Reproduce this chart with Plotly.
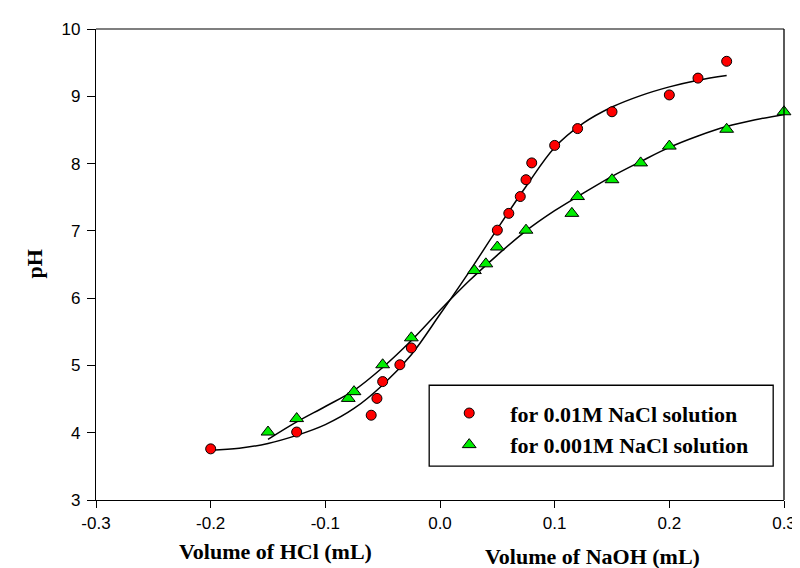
import plotly.graph_objects as go

# ---- data ----
red_x = [-0.2, -0.125, -0.06, -0.055, -0.05, -0.035, -0.025, 0.05, 0.06, 0.07, 0.075, 0.08,
         0.1, 0.12, 0.15, 0.2, 0.225, 0.25]
red_y = [3.76, 4.01, 4.26, 4.51, 4.76, 5.01, 5.26, 7.01, 7.26, 7.51, 7.76, 8.01,
         8.27, 8.52, 8.77, 9.02, 9.27, 9.52]

green_x = [-0.15, -0.125, -0.08, -0.075, -0.05, -0.025, 0.03, 0.04, 0.05, 0.075, 0.115, 0.12,
           0.15, 0.175, 0.2, 0.25, 0.3]
green_y = [4.01, 4.21, 4.51, 4.61, 5.01, 5.41, 6.41, 6.51, 6.76, 7.01, 7.26, 7.51,
           7.76, 8.01, 8.26, 8.51, 8.77]

# fitted curves
red_fit_x = [-0.2, -0.175, -0.15, -0.125, -0.1, -0.075, -0.05, -0.025, 0.0, 0.025, 0.05, 0.075,
             0.1, 0.125, 0.15, 0.175, 0.2, 0.225, 0.25]
red_fit_y = [3.74, 3.77, 3.84, 3.96, 4.12, 4.36, 4.71, 5.16, 5.76, 6.38, 7.03, 7.66,
             8.24, 8.60, 8.84, 9.01, 9.14, 9.24, 9.31]

green_fit_x = [-0.15, -0.125, -0.1, -0.075, -0.05, -0.025, 0.0, 0.025, 0.05, 0.075, 0.1, 0.125,
               0.15, 0.175, 0.2, 0.225, 0.25, 0.275, 0.3]
green_fit_y = [3.90, 4.16, 4.39, 4.63, 4.97, 5.37, 5.82, 6.25, 6.64, 7.00, 7.30, 7.56,
               7.81, 8.03, 8.24, 8.41, 8.55, 8.65, 8.73]

x_ticks = [-0.3, -0.2, -0.1, 0.0, 0.1, 0.2, 0.3]
x_tick_labels = ["-0.3", "-0.2", "-0.1", "0.0", "0.1", "0.2", "0.3"]
y_ticks = [3, 4, 5, 6, 7, 8, 9, 10]

red_name = "for 0.01M NaCl solution"
green_name = "for 0.001M NaCl solution"

SERIF = "Liberation Serif, Times New Roman, serif"
SANS = "Liberation Sans, Arial, sans-serif"

fig = go.Figure()
fig.add_trace(go.Scatter(x=red_fit_x, y=red_fit_y, mode="lines", line=dict(color="black", width=1.5, shape="spline"),
                         showlegend=False, hoverinfo="skip"))
fig.add_trace(go.Scatter(x=green_fit_x, y=green_fit_y, mode="lines", line=dict(color="black", width=1.5, shape="spline"),
                         showlegend=False, hoverinfo="skip"))
fig.add_trace(go.Scatter(x=red_x, y=red_y, mode="markers", name="<b>" + red_name + "</b>",
                         marker=dict(symbol="circle", size=10, color="#ff0000", line=dict(color="black", width=1)),
                         cliponaxis=False))
fig.add_trace(go.Scatter(x=green_x, y=green_y, mode="markers", name="<b>" + green_name + "</b>",
                         marker=dict(symbol="triangle-up", size=12, color="#00ee00", line=dict(color="black", width=1)),
                         cliponaxis=False))

L, R, T, B = 88, 12, 20, 76
W, H = 800, 568
pw, ph = W - L - R, H - T - B

def px(xp):
    return (xp - L) / pw

def py(yp):
    return (H - B - yp) / ph

fig.update_layout(
    width=W, height=H,
    margin=dict(l=L, r=R, t=T, b=B),
    paper_bgcolor="white", plot_bgcolor="white",
    showlegend=True,
    legend=dict(x=px(426), y=py(384), xanchor="left", yanchor="top",
                bgcolor="rgba(0,0,0,0)", borderwidth=0, itemwidth=72,
                font=dict(family=SERIF, size=22, color="black"),
                tracegroupgap=0),
    xaxis=dict(range=[-0.3, 0.3], tickvals=x_ticks, ticktext=x_tick_labels, showgrid=False, zeroline=False,
               showline=True, linecolor="black", linewidth=1.3, ticks="outside", ticklen=7, tickwidth=1.3,
               tickcolor="black", tickfont=dict(family=SANS, size=17, color="black")),
    yaxis=dict(range=[3, 10], tickvals=y_ticks, showgrid=False, zeroline=False,
               showline=True, linecolor="black", linewidth=1.3, ticks="outside", ticklen=8, tickwidth=1.3,
               tickcolor="black", tickfont=dict(family=SANS, size=17, color="black"), ticklabelstandoff=3),
    shapes=[
        dict(type="line", xref="paper", yref="paper", x0=0, x1=1, y0=1, y1=1,
             line=dict(color="#555555", width=1.6)),
        dict(type="line", xref="paper", yref="paper", x0=1, x1=1, y0=0, y1=1,
             line=dict(color="black", width=1.3)),
        dict(type="rect", xref="paper", yref="paper", x0=px(427), x1=px(777), y0=py(458), y1=py(377),
             line=dict(color="black", width=1.3), fillcolor="rgba(0,0,0,0)"),
    ],
    annotations=[
        dict(text="<b>Volume of HCl (mL)</b>", xref="paper", yref="paper", x=px(271), y=py(544),
             xanchor="center", yanchor="middle", showarrow=False, font=dict(family=SERIF, size=22, color="black")),
        dict(text="<b>Volume of NaOH (mL)</b>", xref="paper", yref="paper", x=px(593), y=py(549),
             xanchor="center", yanchor="middle", showarrow=False, font=dict(family=SERIF, size=22, color="black")),
        dict(text="<b>pH</b>", xref="paper", yref="paper", x=px(25), y=0.5, textangle=-90,
             xanchor="center", yanchor="middle", showarrow=False, font=dict(family=SERIF, size=22, color="black")),
    ],
)

fig.write_html("out.html")
